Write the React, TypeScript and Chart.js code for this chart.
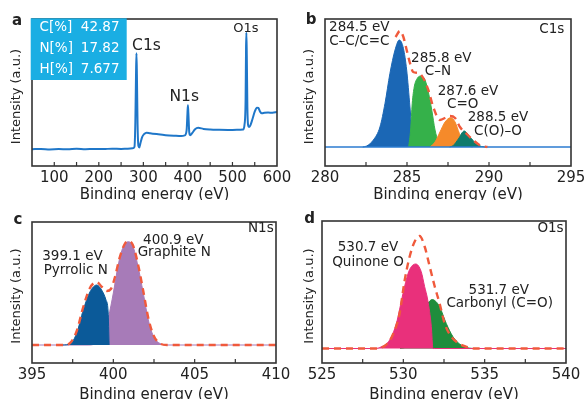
import React, { useEffect, useRef } from 'react';
import { Chart, registerables } from 'chart.js';
Chart.register(...registerables);

const FONT = '"DejaVu Sans", "Liberation Sans", Arial, sans-serif';

// ---------- Panel a: survey spectrum ----------
const surveyEnergy = [50, 70, 90, 110, 130, 150, 170, 190, 210, 230, 250, 265, 276, 280, 282, 283.5, 284.5, 285.5, 287, 289, 291, 293, 297, 302, 307, 315, 330, 350, 370, 385, 393, 397, 399, 400, 401, 403, 405, 410, 416, 423, 435, 450, 470, 490, 510, 524, 527, 529.5, 530.5, 531.3, 532.2, 533.5, 535, 537, 540, 545, 550, 555, 558, 562, 566, 572, 580, 590, 600];
const surveyIntensity = [11.4, 11.6, 11.3, 11.5, 11.4, 11.7, 11.4, 11.6, 11.5, 11.8, 11.6, 11.8, 12.0, 13, 30, 62, 76.7, 62, 28, 13.5, 12.6, 15, 19.5, 21.8, 22.7, 22.3, 21.7, 21.0, 20.6, 20.4, 20.8, 24, 36, 41.3, 36, 23, 21, 22.5, 25, 26, 25.2, 24.8, 24.6, 24.5, 24.6, 24.8, 28, 45, 80, 90.7, 75, 40, 28, 26.5, 27.5, 32, 37, 39.7, 39.5, 37, 35.8, 36.2, 36.4, 36.2, 36.7];
const surveyTickLabels = [100, 200, 300, 400, 500, 600];
const compositionKeys = ['C[%]', 'N[%]', 'H[%]'];
const compositionValues = ['42.87', '17.82', '7.677'];

// ---------- Panel b: C1s ----------
const c1sBaseE = [280, 295];
const c1sBaseI = [0, 0];
const c1sCCE = [282.3, 282.54, 282.95, 283.35, 283.66, 283.96, 284.27, 284.53, 284.78, 284.98, 285.18, 285.28, 285.38, 285.45];
const c1sCCI = [0, 1, 7, 20, 43.7, 73.7, 97, 107, 98.7, 77, 40, 20, 5, 0];
const c1sCNE = [285.1, 285.22, 285.32, 285.44, 285.63, 285.85, 286.1, 286.3, 286.51, 286.71, 286.91, 287.11];
const c1sCNI = [0, 17, 43.7, 60, 68.7, 71, 67, 55, 37, 17, 5.3, 0];
const c1sCOE = [286.4, 286.71, 287.01, 287.32, 287.66, 287.93, 288.19, 288.43, 288.74, 289.0];
const c1sCOI = [0, 5, 15, 25, 29.3, 25, 13.7, 5, 1, 0];
const c1sCOOE = [287.6, 287.82, 288.13, 288.49, 288.84, 289.25, 289.55, 289.9];
const c1sCOOI = [0, 1.5, 8, 16, 10, 3, 0.5, 0];
const c1sEnvE = [284.3, 284.57, 284.78, 284.98, 285.18, 285.38, 285.69, 285.99, 286.3, 286.6, 287.01, 287.32, 287.62, 287.93, 288.23, 288.64, 289.05, 289.45, 289.9];
const c1sEnvI = [110, 116, 110, 97, 84, 75, 74, 69, 57, 40, 27, 29, 31, 29, 20, 13, 6.7, 1.7, 0];
const c1sTickLabels = [280, 285, 290, 295];

// ---------- Panel c: N1s ----------
const n1sGraphE = [395, 398.5, 399.0, 399.4, 399.7, 400.0, 400.3, 400.6, 400.92, 401.2, 401.5, 401.84, 402.15, 402.46, 402.87, 403.3, 410];
const n1sGraphI = [0, 0, 3, 14, 28, 52, 80, 98, 103.3, 99, 80, 52, 25, 9, 1.5, 0, 0];
const n1sPyrE = [396.9, 397.34, 397.75, 398.15, 398.56, 398.98, 399.28, 399.55, 399.68, 399.74];
const n1sPyrI = [0, 1, 12, 35, 53, 60, 55, 45, 33, 0];
const n1sEnvE = [395, 397.0, 397.4, 397.75, 398.15, 398.56, 398.98, 399.3, 399.6, 399.85, 400.1, 400.4, 400.7, 400.92, 401.2, 401.5, 401.84, 402.15, 402.46, 402.87, 403.3, 410];
const n1sEnvI = [0, 0, 3, 14, 38, 57, 63, 58, 54, 56, 68, 88, 101, 104, 100, 82, 54, 27, 10, 1.5, 0, 0];
const n1sTickLabels = [395, 400, 405, 410];

// ---------- Panel d: O1s ----------
const o1sCarbE = [529.8, 530.3, 530.8, 531.2, 531.5, 531.78, 532.0, 532.23, 532.64, 533.05, 533.46, 533.87, 534.3];
const o1sCarbI = [0, 3, 18, 36, 45, 49, 47, 41.8, 25, 11.8, 4.5, 1, 0];
const o1sQuinE = [525, 528.2, 528.55, 529.16, 529.57, 529.98, 530.29, 530.5, 530.76, 531.1, 531.31, 531.5, 531.72, 531.82, 531.9, 540];
const o1sQuinI = [0, 0, 1, 8.5, 25, 55, 75, 82, 84.5, 76.8, 61.8, 48.5, 22, 0, 0, 0];
const o1sEnvE = [525, 528.3, 528.96, 529.36, 529.77, 530.08, 530.39, 530.7, 531.0, 531.31, 531.62, 531.93, 532.23, 532.54, 532.95, 533.46, 533.87, 534.4, 540];
const o1sEnvI = [0, 0, 4, 14, 35, 68, 92, 107, 112.5, 102, 82, 62, 45, 25, 11.8, 4.5, 1.7, 0, 0];
const o1sTickLabels = [525, 530, 535, 540];

const pts = (xs: number[], ys: number[]) => xs.map((x, i) => ({ x, y: ys[i] }));

const ENV = '#f05a3c';

function area(xs: number[], ys: number[], color: string) {
  return {
    data: pts(xs, ys),
    borderColor: color,
    backgroundColor: color,
    borderWidth: 1,
    fill: 'origin',
    pointRadius: 0,
    cubicInterpolationMode: 'monotone',
  };
}
function dashed(xs: number[], ys: number[]) {
  return {
    data: pts(xs, ys),
    borderColor: ENV,
    borderWidth: 2.4,
    borderDash: [7, 5],
    fill: false,
    pointRadius: 0,
    cubicInterpolationMode: 'monotone',
  };
}
function line(xs: number[], ys: number[], color: string, w: number) {
  return {
    data: pts(xs, ys),
    borderColor: color,
    borderWidth: w,
    fill: false,
    pointRadius: 0,
    cubicInterpolationMode: 'monotone',
  };
}

type Note = { text: string; x: number; y: number; size: number; color?: string; bold?: boolean; align?: CanvasTextAlign };

type Spec = {
  left: number; top: number; w: number; h: number;
  pad: { left: number; right: number; top: number };
  axisH: number;
  xMin: number; xMax: number; step: number; labels: number[];
  yMin: number; yMax: number;
  datasets: any[];
  notes: Note[];
  yTitleY: number;
  box?: boolean;
};

const specs: Spec[] = [
  {
    left: 0, top: 0, w: 293, h: 200, pad: { left: 32, right: 16, top: 19 }, axisH: 34,
    xMin: 50, xMax: 600, step: 50, labels: surveyTickLabels, yMin: 0, yMax: 100,
    datasets: [line(surveyEnergy, surveyIntensity, '#1f77c9', 2)],
    yTitleY: 96.5, box: true,
    notes: [
      { text: 'a', x: 17, y: 21, size: 15, bold: true },
      { text: 'C1s', x: 146.5, y: 45.7, size: 15.5 },
      { text: 'N1s', x: 184.2, y: 97.3, size: 15.5 },
      { text: 'O1s', x: 245.8, y: 29, size: 13 },
    ],
  },
  {
    left: 293, top: 0, w: 293, h: 200, pad: { left: 32, right: 15, top: 19 }, axisH: 34,
    xMin: 280, xMax: 295, step: 2.5, labels: c1sTickLabels, yMin: -19, yMax: 128,
    datasets: [
      dashed(c1sEnvE, c1sEnvI),
      line(c1sBaseE, c1sBaseI, '#2b7bd0', 1.5),
      area(c1sCOOE, c1sCOOI, '#0f7b6c'),
      area(c1sCOE, c1sCOI, '#f58a2a'),
      area(c1sCNE, c1sCNI, '#35b14a'),
      area(c1sCCE, c1sCCI, '#1b67b5'),
    ],
    yTitleY: 96.5,
    notes: [
      { text: 'b', x: 18, y: 20.5, size: 15, bold: true },
      { text: '284.5 eV', x: 66.3, y: 27.8, size: 13.5 },
      { text: 'C\u2013C/C=C', x: 66.3, y: 41.7, size: 13.5 },
      { text: '285.8 eV', x: 148.3, y: 58.3, size: 13.5 },
      { text: 'C\u2013N', x: 145, y: 71.7, size: 13.5 },
      { text: '287.6 eV', x: 175, y: 91, size: 13.5 },
      { text: 'C=O', x: 169.7, y: 104, size: 13.5 },
      { text: '288.5 eV', x: 205, y: 117, size: 13.5 },
      { text: 'C(O)\u2013O', x: 205, y: 131, size: 13.5 },
      { text: 'C1s', x: 258.8, y: 29, size: 13.5 },
    ],
  },
  {
    left: 0, top: 200, w: 293, h: 199, pad: { left: 32, right: 17, top: 22 }, axisH: 36,
    xMin: 395, xMax: 410, step: 2.5, labels: n1sTickLabels, yMin: -18, yMax: 123,
    datasets: [
      dashed(n1sEnvE, n1sEnvI),
      area(n1sPyrE, n1sPyrI, '#0b5a99'),
      area(n1sGraphE, n1sGraphI, '#a77bb8'),
    ],
    yTitleY: 96,
    notes: [
      { text: 'c', x: 18, y: 20, size: 15, bold: true },
      { text: '399.1 eV', x: 72.5, y: 56.7, size: 13.5 },
      { text: 'Pyrrolic N', x: 75.8, y: 70.5, size: 13.5 },
      { text: '400.9 eV', x: 173.3, y: 40, size: 13.5 },
      { text: 'Graphite N', x: 174.2, y: 52.3, size: 13.5 },
      { text: 'N1s', x: 260.8, y: 28.7, size: 13.5 },
    ],
  },
  {
    left: 293, top: 200, w: 293, h: 199, pad: { left: 29, right: 20, top: 21 }, axisH: 36,
    xMin: 525, xMax: 540, step: 2.5, labels: o1sTickLabels, yMin: -14.5, yMax: 127.5,
    datasets: [
      dashed(o1sEnvE, o1sEnvI),
      area(o1sQuinE, o1sQuinI, '#e9307b'),
      area(o1sCarbE, o1sCarbI, '#1f8d3c'),
    ],
    yTitleY: 96,
    notes: [
      { text: 'd', x: 16.7, y: 19, size: 15, bold: true },
      { text: '530.7 eV', x: 75, y: 47, size: 13.5 },
      { text: 'Quinone O', x: 75, y: 62.8, size: 13.5 },
      { text: '531.7 eV', x: 205.8, y: 90, size: 13.5 },
      { text: 'Carbonyl (C=O)', x: 206.7, y: 103.7, size: 13.5 },
      { text: 'O1s', x: 257.5, y: 28.7, size: 13.5 },
    ],
  },
];

function makeDecor(spec: Spec) {
  return {
    id: 'decor',
    afterDraw(chart: any) {
      const ctx = chart.ctx as CanvasRenderingContext2D;
      const ca = chart.chartArea;
      const xs = chart.scales.x;
      ctx.save();
      // inward tick marks
      ctx.strokeStyle = '#333';
      ctx.lineWidth = 1.2;
      for (const t of xs.ticks) {
        const px = xs.getPixelForValue(t.value);
        if (px < ca.left + 1 || px > ca.right - 1) continue;
        ctx.beginPath();
        ctx.moveTo(px, ca.bottom);
        ctx.lineTo(px, ca.bottom - 4);
        ctx.stroke();
      }
      // frame
      ctx.lineWidth = 1.6;
      ctx.strokeStyle = '#333';
      ctx.strokeRect(ca.left, ca.top, ca.right - ca.left, ca.bottom - ca.top);
      // composition box
      if (spec.box) {
        ctx.fillStyle = '#1aaee3';
        ctx.fillRect(30.7, 18.3, 96, 61.7);
        ctx.fillStyle = '#ffffff';
        ctx.font = `13.5px ${FONT}`;
        ctx.textBaseline = 'middle';
        compositionKeys.forEach((k, i) => {
          const y = 27.7 + i * 21;
          ctx.textAlign = 'left';
          ctx.fillText(k, 39.5, y);
          ctx.textAlign = 'right';
          ctx.fillText(compositionValues[i], 119.5, y);
        });
      }
      // notes
      ctx.textBaseline = 'middle';
      for (const n of spec.notes) {
        ctx.fillStyle = n.color || '#222';
        ctx.font = `${n.bold ? 'bold ' : ''}${n.size}px ${FONT}`;
        ctx.textAlign = n.align || 'center';
        ctx.fillText(n.text, n.x, n.y);
      }
      // axis titles
      ctx.fillStyle = '#222';
      ctx.font = `15px ${FONT}`;
      ctx.textAlign = 'center';
      ctx.textBaseline = 'alphabetic';
      ctx.fillText('Binding energy (eV)', (ca.left + ca.right) / 2, 199);
      ctx.save();
      ctx.translate(16.5, spec.yTitleY);
      ctx.rotate(-Math.PI / 2);
      ctx.font = `13px ${FONT}`;
      ctx.textBaseline = 'middle';
      ctx.fillText('Intensity (a.u.)', 0, 0);
      ctx.restore();
      ctx.restore();
    },
  };
}

function Panel({ spec }: { spec: Spec }) {
  const ref = useRef<HTMLCanvasElement>(null);
  useEffect(() => {
    const chart = new Chart(ref.current as HTMLCanvasElement, {
      type: 'line',
      data: { datasets: spec.datasets },
      options: {
        responsive: false,
        maintainAspectRatio: false,
        devicePixelRatio: 1,
        animation: false,
        events: [],
        layout: { padding: { left: spec.pad.left, right: spec.pad.right, top: spec.pad.top, bottom: 0 } },
        plugins: { legend: { display: false }, tooltip: { enabled: false } },
        scales: {
          x: {
            type: 'linear',
            position: 'bottom',
            min: spec.xMin,
            max: spec.xMax,
            grid: { display: false, drawTicks: false },
            border: { display: false },
            ticks: {
              stepSize: spec.step,
              autoSkip: false,
              maxRotation: 0,
              minRotation: 0,
              padding: 3,
              color: '#222',
              font: { family: FONT, size: 15 },
              callback: (v: any) => (spec.labels.includes(Number(v)) ? String(v) : ''),
            },
            afterFit: (s: any) => {
              s.height = spec.axisH;
              s.paddingLeft = 0;
              s.paddingRight = 0;
            },
          },
          y: { display: false, min: spec.yMin, max: spec.yMax },
        },
      } as any,
      plugins: [makeDecor(spec)],
    });
    return () => chart.destroy();
  }, []);
  return (
    <div style={{ position: 'absolute', left: spec.left, top: spec.top, width: spec.w, height: spec.h }}>
      <canvas ref={ref} width={spec.w} height={spec.h} style={{ width: spec.w, height: spec.h, display: 'block' }} />
    </div>
  );
}

export default function App() {
  return (
    <div style={{ position: 'absolute', left: 0, top: 0, width: 586, height: 399, background: '#fff', overflow: 'hidden' }}>
      {specs.map((s, i) => (
        <Panel key={i} spec={s} />
      ))}
    </div>
  );
}
